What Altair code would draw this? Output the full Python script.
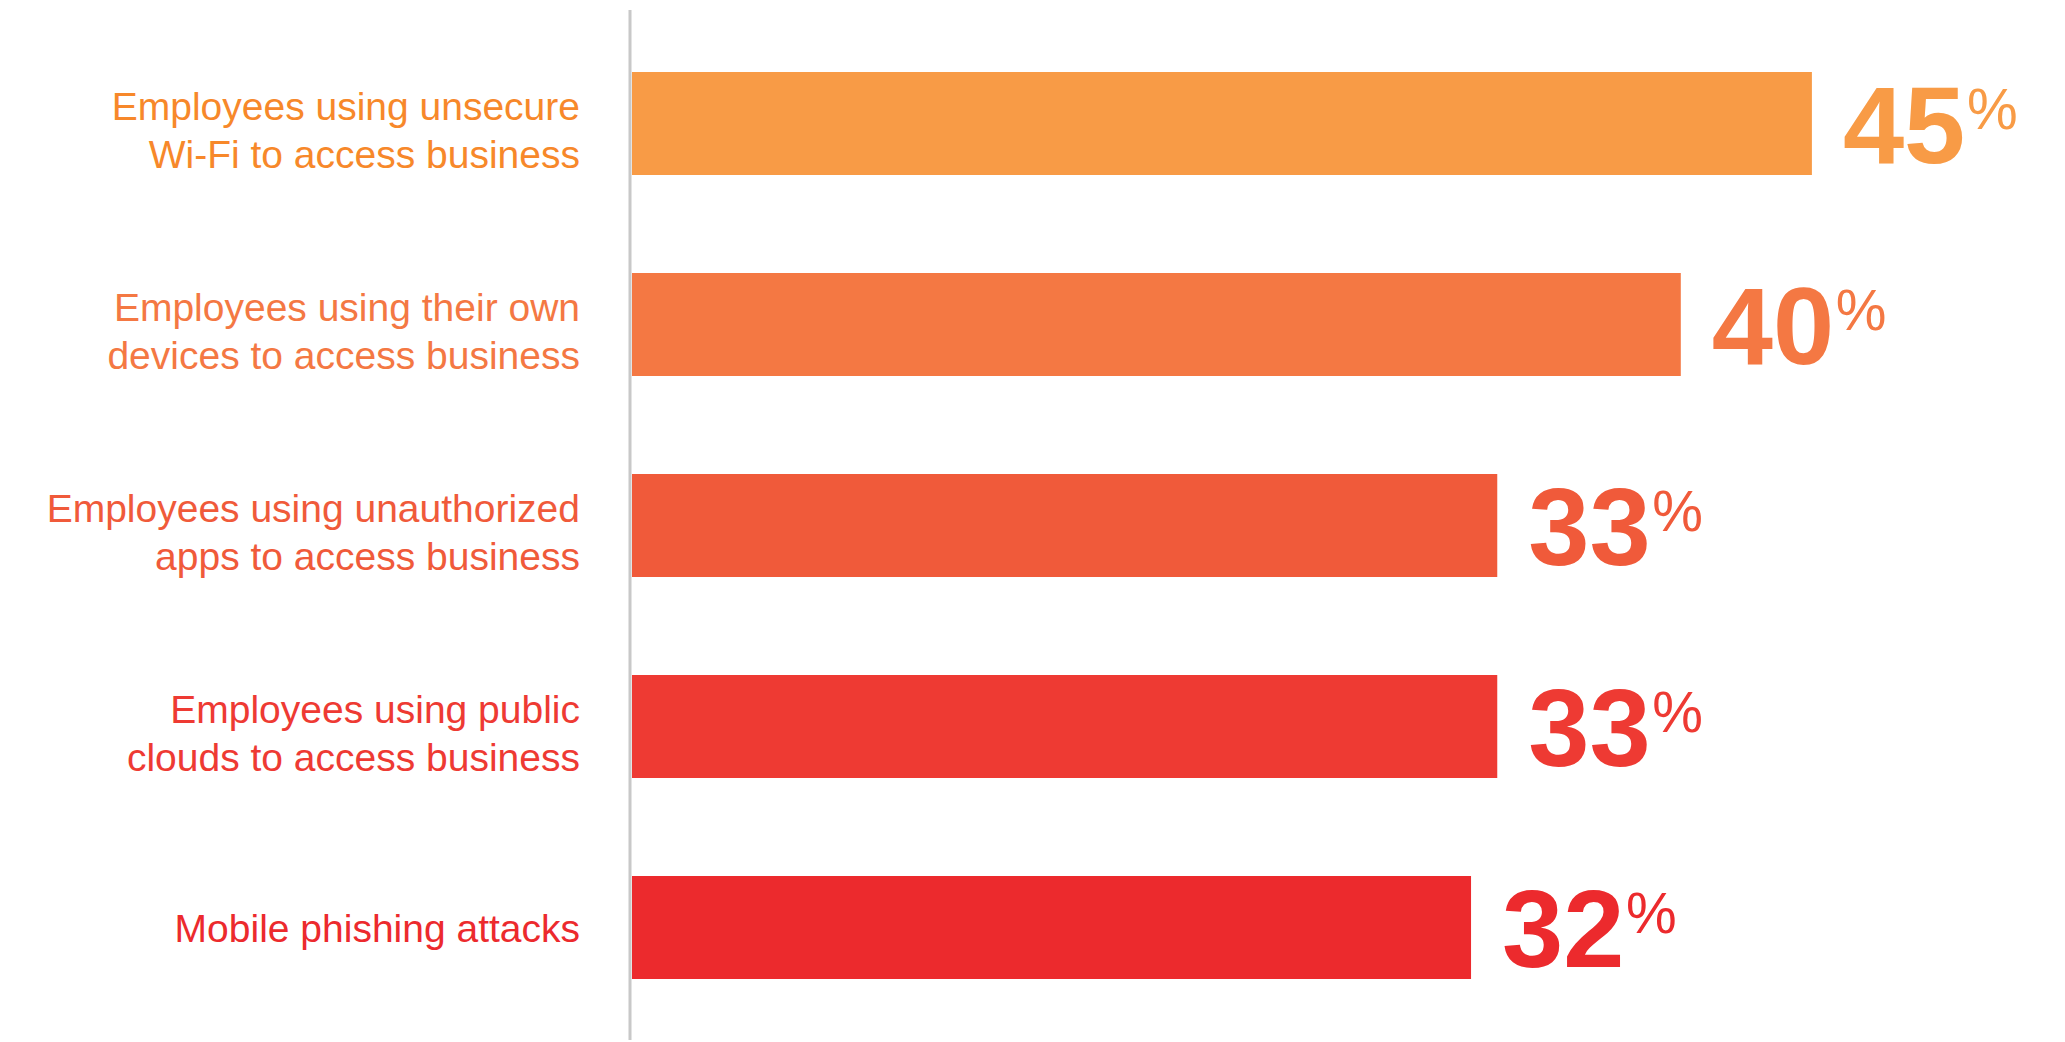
import altair as alt
import pandas as pd

categories = [
    "Employees using unsecure\nWi-Fi to access business",
    "Employees using their own\ndevices to access business",
    "Employees using unauthorized\napps to access business",
    "Employees using public\nclouds to access business",
    "Mobile phishing attacks",
]
values = [45, 40, 33, 33, 32]
bar_colors = ["#F89B46", "#F47843", "#F05A3A", "#EE3A33", "#EC2A2D"]
label_colors = ["#F7882A", "#F47843", "#F05A3A", "#EE3A33", "#EC2A2D"]

df = pd.DataFrame({
    "cat": categories,
    "value": values,
    "num": [str(v) for v in values],
    "bar_color": bar_colors,
    "label_color": label_colors,
    "lines": [c.count("\n") + 1 for c in categories],
})

FONT = "Liberation Sans"

ysc = alt.Scale(paddingInner=0.4876, paddingOuter=0.2438)
xsc = alt.Scale(domain=[0, 50])

base = alt.Chart(df).encode(
    y=alt.Y("cat:N", sort=None, axis=None, scale=ysc)
)

bars = base.mark_bar().encode(
    x=alt.X("value:Q", scale=xsc, axis=None),
    color=alt.Color("bar_color:N", scale=None),
)

nums = base.mark_text(
    align="left", baseline="alphabetic", dx=31, dy=39,
    fontSize=110, fontWeight="bold", font=FONT,
).encode(
    x=alt.X("value:Q", scale=xsc, axis=None),
    text="num:N",
    color=alt.Color("bar_color:N", scale=None),
)

pct = base.mark_text(
    align="left", baseline="alphabetic", dx=155, dy=5,
    fontSize=57, font=FONT,
).encode(
    x=alt.X("value:Q", scale=xsc, axis=None),
    text=alt.value("%"),
    color=alt.Color("bar_color:N", scale=None),
)

labels2 = base.transform_filter("datum.lines == 2").mark_text(
    align="right", baseline="middle", lineBreak="\n", lineHeight=48,
    fontSize=39, font=FONT, dy=-16,
).encode(
    x=alt.value(-52),
    text="cat:N",
    color=alt.Color("label_color:N", scale=None),
)

labels1 = base.transform_filter("datum.lines == 1").mark_text(
    align="right", baseline="middle",
    fontSize=39, font=FONT, dy=2,
).encode(
    x=alt.value(-52),
    text="cat:N",
    color=alt.Color("label_color:N", scale=None),
)

rule = alt.Chart(pd.DataFrame({"a": [0]})).mark_rule(
    color="#C8C8C8", strokeWidth=3
).encode(
    x=alt.value(-2), y=alt.value(-13), y2=alt.value(1017)
)

chart = alt.layer(rule, bars, nums, pct, labels2, labels1).properties(
    width=1311, height=1005,
    padding={"left": 632, "top": 23, "right": 122, "bottom": 14},
    autosize=alt.AutoSizeParams(type="none"),
    background="white",
).configure_view(strokeWidth=0, stroke="transparent")

chart.save("out.html", embed_options={"renderer": "svg", "actions": False})
